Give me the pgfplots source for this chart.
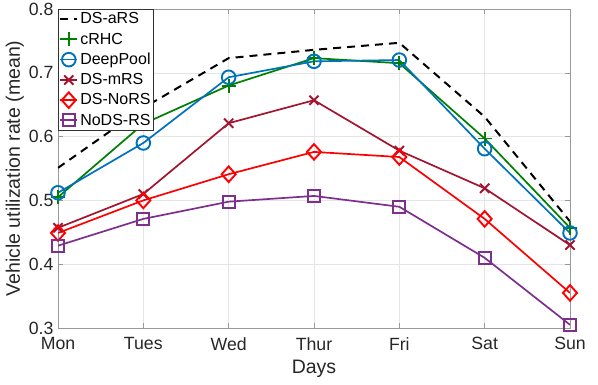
\documentclass[border=0pt]{standalone}
\usepackage{fontspec}
\setmainfont{Liberation Sans}
\usepackage{pgfplots}
\pgfplotsset{compat=1.18}
\definecolor{cgreen}{rgb}{0,0.5,0}
\definecolor{cblue}{rgb}{0,0.447,0.741}
\definecolor{cdred}{rgb}{0.635,0.078,0.184}
\definecolor{cred}{rgb}{1,0,0}
\definecolor{cpurple}{rgb}{0.494,0.184,0.556}
\begin{document}
\begin{tikzpicture}
\useasboundingbox (-58bp,-57bp) rectangle (540bp,328bp);
\begin{axis}[
  scale only axis,
  width=512bp, height=319bp,
  xmin=0, xmax=6, ymin=0.3, ymax=0.8,
  xtick={0,1,2,3,4,5,6},
  xticklabels={Mon,Tues,Wed,Thur,Fri,Sat,Sun},
  ytick={0.3,0.4,0.5,0.6,0.7,0.8},
  yticklabel style={xshift=-1bp},
  y tick label style={/pgf/number format/.cd,fixed,fixed zerofill,precision=1},
  /pgf/number format/assume math mode=true,
  tick label style={font=\fontsize{17.7bp}{20bp}\selectfont, text=black!85},
  xticklabel style={yshift=-6bp},
  label style={font=\fontsize{19.5bp}{22bp}\selectfont, text=black!85},
  xlabel={Days},
  ylabel={Vehicle utilization rate (mean)},
  xlabel style={yshift=-3bp},
  ylabel style={yshift=-2bp},
  grid=major,
  major grid style={gray!20, line width=0.6bp},
  tick align=inside,
  major tick length=5bp,
  tick style={gray!80, line width=0.6bp},
  axis line style={gray!80, line width=0.6bp},
  legend style={font=\fontsize{16bp}{19bp}\selectfont, draw=black!80, line width=0.6bp, inner xsep=1bp, inner ysep=1.5bp, row sep=3.5bp, legend cell align=left, at={(0,1)}, anchor=north west},
  every axis plot/.append style={line width=1.7bp},
]
\addplot[black, dash pattern=on 8bp off 6bp, line width=2bp] coordinates {(0,0.551)(1,0.645)(2,0.723)(3,0.736)(4,0.747)(5,0.631)(6,0.467)};
\addlegendentry{DS-aRS}
\addplot[cgreen, mark=+, mark size=7bp, mark options={line width=1.9bp}] coordinates {(0,0.505)(1,0.620)(2,0.680)(3,0.723)(4,0.715)(5,0.597)(6,0.457)};
\addlegendentry{cRHC}
\addplot[cblue, mark=o, mark size=6.8bp, mark options={line width=1.9bp}] coordinates {(0,0.512)(1,0.590)(2,0.693)(3,0.718)(4,0.720)(5,0.581)(6,0.449)};
\addlegendentry{DeepPool}
\addplot[cdred, mark=x, mark size=6.5bp, mark options={line width=1.9bp}] coordinates {(0,0.457)(1,0.510)(2,0.621)(3,0.657)(4,0.578)(5,0.519)(6,0.430)};
\addlegendentry{DS-mRS}
\addplot[cred, mark=diamond, mark size=7.8bp, mark options={line width=1.9bp, xscale=1.2}] coordinates {(0,0.449)(1,0.500)(2,0.541)(3,0.576)(4,0.568)(5,0.471)(6,0.355)};
\addlegendentry{DS-NoRS}
\addplot[cpurple, mark=square, mark size=6bp, mark options={line width=1.7bp}] coordinates {(0,0.429)(1,0.471)(2,0.498)(3,0.507)(4,0.490)(5,0.410)(6,0.305)};
\addlegendentry{NoDS-RS}
\end{axis}
\end{tikzpicture}
\end{document}
